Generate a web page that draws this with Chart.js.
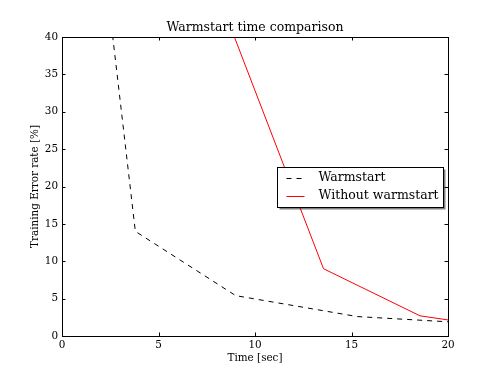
<!DOCTYPE html>
<html>
<head>
<meta charset="utf-8">
<script src="https://cdn.jsdelivr.net/npm/chart.js@4"></script>
<style>
html,body{margin:0;padding:0;background:#fff;}
canvas{display:block;}
</style>
</head>
<body>
<canvas id="c" width="498" height="374"></canvas>
<script>
const seriesNames = ["Warmstart", "Without warmstart"];
const warmX = [2.5, 3.8, 9.0, 15.3, 20.0];
const warmY = [42.9, 14.0, 5.4, 2.6, 1.9];
const noWarmX = [8.5, 13.55, 18.55, 20.0];
const noWarmY = [42.9, 9.0, 2.7, 2.15];
const xTicks = [0, 5, 10, 15, 20];
const yTicks = [0, 5, 10, 15, 20, 25, 30, 35, 40];

const FONT = "'DejaVu Serif', serif";

const toPts = (xs, ys) => xs.map((x, i) => ({x: x, y: ys[i]}));

const framePlugin = {
  id: 'frame',
  afterDatasetsDraw(chart) {
    const {ctx, chartArea: a, scales} = chart;
    ctx.save();
    ctx.strokeStyle = '#000';
    ctx.lineWidth = 1;
    const L = 3.5;
    ctx.beginPath();
    xTicks.forEach(v => {
      const px = Math.round(scales.x.getPixelForValue(v)) + 0.5;
      ctx.moveTo(px, a.bottom); ctx.lineTo(px, a.bottom - L);
      ctx.moveTo(px, a.top); ctx.lineTo(px, a.top + L);
    });
    yTicks.forEach(v => {
      const py = Math.round(scales.y.getPixelForValue(v)) + 0.5;
      ctx.moveTo(a.left, py); ctx.lineTo(a.left + L, py);
      ctx.moveTo(a.right, py); ctx.lineTo(a.right - L, py);
    });
    ctx.stroke();
    ctx.strokeRect(Math.round(a.left) + 0.5, Math.round(a.top) + 0.5,
                   Math.round(a.right - a.left), Math.round(a.bottom - a.top));

    // legend (center right)
    const w = 166, h = 40;
    const bx = Math.round(a.right - 5.5 - w) + 0.5;
    const by = Math.round((a.top + a.bottom) / 2 - h / 2) + 0.5;
    ctx.fillStyle = 'rgba(0,0,0,0.5)';
    ctx.fillRect(bx + 2, by + 2, w, h);
    ctx.fillStyle = '#fff';
    ctx.fillRect(bx, by, w, h);
    ctx.strokeStyle = '#000';
    ctx.strokeRect(bx, by, w, h);
    ctx.font = "12.5px " + FONT;
    ctx.textBaseline = 'middle';
    chart.data.datasets.forEach((ds, i) => {
      const cy = by + 10.5 + i * 18;
      ctx.save();
      ctx.strokeStyle = ds.borderColor;
      ctx.lineWidth = 1;
      ctx.setLineDash(ds.borderDash || []);
      ctx.beginPath();
      ctx.moveTo(bx + 9, Math.round(cy) + 0.5);
      ctx.lineTo(bx + 27, Math.round(cy) + 0.5);
      ctx.stroke();
      ctx.restore();
      ctx.fillStyle = '#000';
      ctx.fillText(ds.label, bx + 41, cy);
    });
    ctx.restore();
  }
};

new Chart(document.getElementById('c'), {
  type: 'line',
  data: {
    datasets: [
      {
        label: seriesNames[0],
        data: toPts(warmX, warmY),
        borderColor: '#000000',
        borderWidth: 1,
        borderDash: [5, 5],
        pointRadius: 0,
        tension: 0,
        fill: false
      },
      {
        label: seriesNames[1],
        data: toPts(noWarmX, noWarmY),
        borderColor: '#ff0000',
        borderWidth: 1,
        pointRadius: 0,
        tension: 0,
        fill: false
      }
    ]
  },
  options: {
    responsive: false,
    animation: false,
    events: [],
    layout: {padding: {left: 12, right: 0, top: 0, bottom: 0}},
    plugins: {
      legend: {display: false},
      tooltip: {enabled: false},
      title: {
        display: true,
        text: 'Warmstart time comparison',
        color: '#000',
        font: {family: FONT, size: 12.5, weight: 'normal', lineHeight: 1.2},
        padding: {top: 20, bottom: 2}
      }
    },
    scales: {
      x: {
        type: 'linear',
        min: 0, max: 20,
        afterBuildTicks: s => { s.ticks = xTicks.map(v => ({value: v})); },
        afterFit: s => { s.height = 38; },
        grid: {display: false, drawTicks: false},
        border: {display: false},
        ticks: {color: '#000', font: {family: FONT, size: 10.4}, padding: 3, maxRotation: 0,
                callback: v => String(v)},
        title: {display: true, text: 'Time [sec]', color: '#000',
                font: {family: FONT, size: 10.4}, padding: {top: 0, bottom: 9}}
      },
      y: {
        type: 'linear',
        min: 0, max: 40,
        afterBuildTicks: s => { s.ticks = yTicks.map(v => ({value: v})); },
        afterFit: s => { s.width = 50; },
        grid: {display: false, drawTicks: false},
        border: {display: false},
        ticks: {color: '#000', font: {family: FONT, size: 10.4}, padding: 4,
                callback: v => String(v)},
        title: {display: true, text: 'Training Error rate [%]', color: '#000',
                font: {family: FONT, size: 10.4}, padding: {top: 17, bottom: 0}}
      },
      yRight: {
        type: 'linear',
        position: 'right',
        min: 0, max: 40,
        afterFit: s => { s.width = 50; },
        grid: {display: false, drawTicks: false},
        border: {display: false},
        ticks: {display: false}
      }
    }
  },
  plugins: [framePlugin]
});
</script>
</body>
</html>
